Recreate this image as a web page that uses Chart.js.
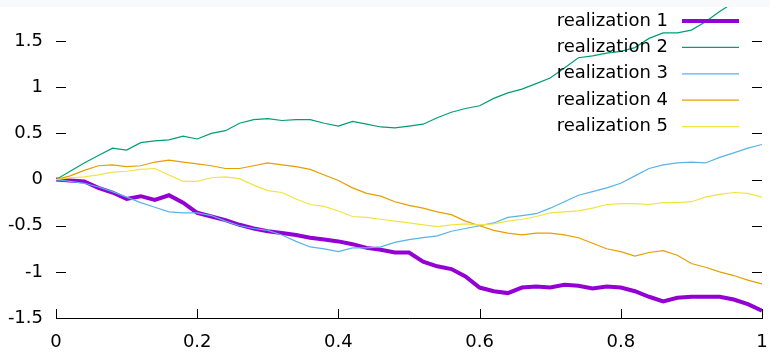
<!DOCTYPE html>
<html>
<head>
<meta charset="utf-8">
<script src="https://cdn.jsdelivr.net/npm/chart.js"></script>
<style>
  html, body { margin: 0; padding: 0; background: #fff; }
  canvas { display: block; }
</style>
</head>
<body>
<canvas id="myChart" width="770" height="353"></canvas>
<script>
// time grid and the five sample paths
const times = [0, 0.02, 0.04, 0.06, 0.08, 0.1, 0.12, 0.14, 0.16, 0.18,
  0.2, 0.22, 0.24, 0.26, 0.28, 0.3, 0.32, 0.34, 0.36, 0.38,
  0.4, 0.42, 0.44, 0.46, 0.48, 0.5, 0.52, 0.54, 0.56, 0.58,
  0.6, 0.62, 0.64, 0.66, 0.68, 0.7, 0.72, 0.74, 0.76, 0.78,
  0.8, 0.82, 0.84, 0.86, 0.88, 0.9, 0.92, 0.94, 0.96, 0.98, 1];

const realization1 = [0, -0.01, -0.02, -0.09, -0.14, -0.21, -0.18, -0.22, -0.17, -0.25,
  -0.36, -0.40, -0.44, -0.49, -0.53, -0.56, -0.58, -0.60, -0.63, -0.65,
  -0.67, -0.70, -0.74, -0.76, -0.79, -0.79, -0.89, -0.94, -0.97, -1.05,
  -1.17, -1.21, -1.23, -1.17, -1.16, -1.17, -1.14, -1.15, -1.18, -1.16,
  -1.17, -1.21, -1.27, -1.32, -1.28, -1.27, -1.27, -1.27, -1.30, -1.35, -1.42];

const realization2 = [0, 0.09, 0.18, 0.26, 0.34, 0.32, 0.40, 0.42, 0.43, 0.47,
  0.44, 0.50, 0.53, 0.61, 0.65, 0.66, 0.64, 0.65, 0.65, 0.61,
  0.58, 0.63, 0.60, 0.57, 0.56, 0.58, 0.60, 0.67, 0.73, 0.77,
  0.80, 0.88, 0.94, 0.98, 1.04, 1.10, 1.21, 1.32, 1.34, 1.37,
  1.39, 1.43, 1.53, 1.59, 1.59, 1.62, 1.71, 1.82, 1.92, 2.0, 2.05];

const realization3 = [0, -0.02, -0.04, -0.08, -0.13, -0.19, -0.25, -0.30, -0.35, -0.36,
  -0.36, -0.39, -0.45, -0.50, -0.53, -0.55, -0.60, -0.67, -0.73, -0.75,
  -0.78, -0.74, -0.74, -0.73, -0.68, -0.65, -0.63, -0.61, -0.56, -0.53,
  -0.50, -0.47, -0.41, -0.39, -0.37, -0.31, -0.24, -0.17, -0.13, -0.09,
  -0.04, 0.04, 0.12, 0.16, 0.18, 0.19, 0.18, 0.24, 0.29, 0.34, 0.38];

const realization4 = [0, 0.04, 0.10, 0.15, 0.16, 0.14, 0.15, 0.19, 0.21, 0.19,
  0.17, 0.15, 0.12, 0.12, 0.15, 0.18, 0.16, 0.14, 0.11, 0.05,
  -0.01, -0.09, -0.15, -0.18, -0.24, -0.28, -0.31, -0.35, -0.38, -0.45,
  -0.50, -0.55, -0.58, -0.60, -0.58, -0.58, -0.60, -0.63, -0.69, -0.75,
  -0.78, -0.83, -0.79, -0.77, -0.82, -0.91, -0.95, -1.00, -1.04, -1.09, -1.13];

const realization5 = [0, 0.02, 0.03, 0.05, 0.08, 0.09, 0.11, 0.12, 0.05, -0.02,
  -0.02, 0.02, 0.03, 0.01, -0.06, -0.12, -0.14, -0.21, -0.27, -0.29,
  -0.34, -0.40, -0.41, -0.43, -0.45, -0.47, -0.49, -0.51, -0.49, -0.48,
  -0.49, -0.48, -0.45, -0.43, -0.40, -0.36, -0.35, -0.34, -0.31, -0.27,
  -0.26, -0.26, -0.27, -0.25, -0.25, -0.24, -0.19, -0.16, -0.14, -0.15, -0.19];

const seriesLabels = ['realization 1', 'realization 2', 'realization 3', 'realization 4', 'realization 5'];
const seriesValues = [realization1, realization2, realization3, realization4, realization5];
const seriesColors = ['#9400d3', '#009e73', '#56b4e9', '#e69f00', '#f0e442'];
const seriesWidths = [4, 1.2, 1.2, 1.2, 1.2];

const xTicks = [0, 0.2, 0.4, 0.6, 0.8, 1];
const yTicks = [-1.5, -1, -0.5, 0, 0.5, 1, 1.5];
const titleText = 'Realizations of a Wiener process by random walk';

const FONT = { family: '"DejaVu Sans", sans-serif', size: 18 };

// gnuplot-ish frame: inward tics, key inside the plot, clipped title strip
const gnuplotFrame = {
  id: 'gnuplotFrame',
  beforeDatasetsDraw(chart) {
    const ctx = chart.ctx;
    const area = chart.chartArea;
    const xs = chart.scales.x, ys = chart.scales.y;
    ctx.save();
    ctx.strokeStyle = '#000';
    ctx.lineWidth = 1;
    ctx.beginPath();
    yTicks.forEach(v => {
      const y = Math.round(ys.getPixelForValue(v)) + 0.5;
      ctx.moveTo(area.left, y); ctx.lineTo(area.left + 10, y);
      ctx.moveTo(area.right - 10, y); ctx.lineTo(area.right, y);
    });
    xTicks.forEach(v => {
      const x = Math.round(xs.getPixelForValue(v)) + 0.5;
      ctx.moveTo(x, area.bottom); ctx.lineTo(x, area.bottom - 9);
    });
    ctx.stroke();
    ctx.restore();
  },
  afterDraw(chart) {
    const ctx = chart.ctx;
    const area = chart.chartArea;
    ctx.save();
    ctx.font = FONT.size + 'px ' + FONT.family;
    ctx.textBaseline = 'middle';
    chart.data.datasets.forEach((ds, i) => {
      const y = area.top + 14 + i * 26.4;
      ctx.fillStyle = '#000';
      ctx.textAlign = 'right';
      ctx.fillText(ds.label, area.right - 94, y);
      ctx.strokeStyle = ds.borderColor;
      ctx.lineWidth = ds.borderWidth;
      ctx.beginPath();
      ctx.moveTo(area.right - 80, y);
      ctx.lineTo(area.right - 23, y);
      ctx.stroke();
    });
    ctx.restore();

    // strip at the top with the title cut off
    ctx.save();
    ctx.fillStyle = '#f8f9fa';
    ctx.fillRect(0, 0, chart.width, 7);
    ctx.beginPath();
    ctx.rect(0, 0, chart.width, 7);
    ctx.clip();
    ctx.font = FONT.size + 'px ' + FONT.family;
    ctx.fillStyle = '#000';
    ctx.textAlign = 'left';
    ctx.textBaseline = 'alphabetic';
    const pre = ctx.measureText('Realizations of a Wiener ').width;
    ctx.fillText(titleText, 446 - pre, -4);
    ctx.restore();
  }
};

const ctx = document.getElementById('myChart').getContext('2d');
new Chart(ctx, {
  type: 'line',
  data: {
    datasets: seriesLabels.map((label, i) => ({
      label: label,
      data: times.map((t, k) => ({ x: t, y: seriesValues[i][k] })),
      borderColor: seriesColors[i],
      borderWidth: seriesWidths[i],
      pointRadius: 0,
      tension: 0,
      fill: false,
      clip: 0,
      order: seriesLabels.length - i
    }))
  },
  options: {
    responsive: false,
    animation: false,
    events: [],
    layout: { padding: { top: 7, right: 8, left: 0, bottom: 0 } },
    scales: {
      x: {
        type: 'linear',
        min: 0,
        max: 1,
        afterBuildTicks: s => { s.ticks = xTicks.map(v => ({ value: v })); },
        afterFit: s => { s.height = 35; s.paddingLeft = 0; s.paddingRight = 0; },
        grid: { display: false, drawTicks: false },
        border: { display: true, color: '#000', width: 1 },
        ticks: { color: '#000', font: FONT, padding: 14, maxRotation: 0, autoSkip: false,
          callback: v => String(v) }
      },
      y: {
        type: 'linear',
        min: -1.5,
        max: 1.87,
        afterBuildTicks: s => { s.ticks = yTicks.map(v => ({ value: v })); },
        afterFit: s => { s.width = 56; s.paddingTop = 0; s.paddingBottom = 0; },
        grid: { display: false, drawTicks: false },
        border: { display: false },
        ticks: { color: '#000', font: FONT, padding: 13, callback: v => String(v) }
      }
    },
    plugins: {
      legend: { display: false },
      title: { display: false },
      tooltip: { enabled: false }
    }
  },
  plugins: [gnuplotFrame]
});
</script>
</body>
</html>
